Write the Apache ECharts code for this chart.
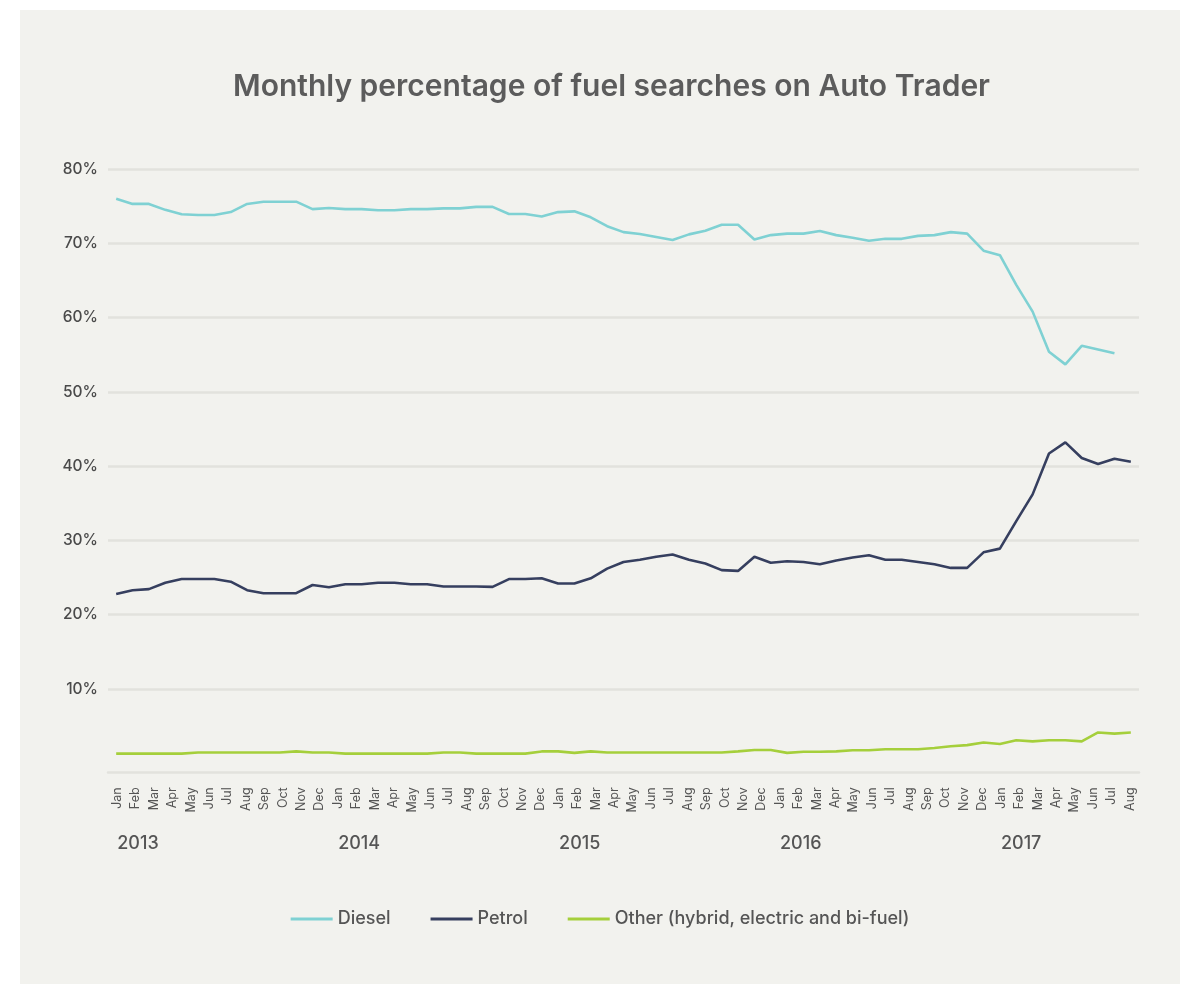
<!DOCTYPE html>
<html>
<head>
<meta charset="utf-8">
<title>Monthly percentage of fuel searches on Auto Trader</title>
<script src="https://cdn.jsdelivr.net/npm/echarts@6/dist/echarts.min.js"></script>
<style>
  html, body { margin: 0; padding: 0; background: #fff; }
  #panel { position: absolute; left: 20px; top: 10px; width: 1160px; height: 974px; background: #f2f2ee; }
  #chart { position: absolute; left: 0; top: 0; width: 1200px; height: 993px; }
</style>
</head>
<body>
<div id="panel"></div>
<div id="chart"></div>
<script>
// axis labels
const monthNames = ['Jan', 'Feb', 'Mar', 'Apr', 'May', 'Jun', 'Jul', 'Aug', 'Sep', 'Oct', 'Nov', 'Dec'];
const years = ['2013', '2014', '2015', '2016', '2017'];
const lastYearMonths = 8; // 2017 runs Jan..Aug
const yTicks = [0, 10, 20, 30, 40, 50, 60, 70, 80];

// readings taken off the lines (the plotted points are finer than the month ticks)
const diesel = [
  76.0, 75.3, 75.3, 74.5, 73.9, 73.8, 73.8, 74.2, 75.3, 75.6, 75.6, 75.6,
  74.6, 74.75, 74.6, 74.6, 74.45, 74.45, 74.6, 74.6, 74.7, 74.7, 74.9, 74.9,
  73.95, 73.95, 73.6, 74.2, 74.3, 73.5, 72.3, 71.5, 71.25, 70.85, 70.45, 71.2,
  71.7, 72.5, 72.5, 70.5, 71.1, 71.3, 71.3, 71.65, 71.1, 70.75, 70.35, 70.6,
  70.6, 71.0, 71.1, 71.5, 71.3, 69.0, 68.4, 64.4, 60.8, 55.4, 53.7, 56.2,
  55.7, 55.2, null
];
const petrol = [
  22.8, 23.3, 23.45, 24.3, 24.8, 24.8, 24.8, 24.45, 23.3, 22.9, 22.9, 22.9,
  24.0, 23.7, 24.1, 24.1, 24.3, 24.3, 24.1, 24.1, 23.8, 23.8, 23.8, 23.75,
  24.8, 24.8, 24.9, 24.2, 24.2, 24.9, 26.2, 27.1, 27.4, 27.8, 28.1, 27.4,
  26.9, 26.0, 25.9, 27.8, 27.0, 27.2, 27.1, 26.8, 27.3, 27.7, 28.0, 27.4,
  27.4, 27.1, 26.8, 26.3, 26.3, 28.4, 28.9, 32.6, 36.2, 41.7, 43.2, 41.1,
  40.3, 41.0, 40.6
];
const other = [
  1.3, 1.3, 1.3, 1.3, 1.3, 1.45, 1.45, 1.45, 1.45, 1.45, 1.45, 1.6,
  1.45, 1.45, 1.3, 1.3, 1.3, 1.3, 1.3, 1.3, 1.45, 1.45, 1.3, 1.3,
  1.3, 1.3, 1.6, 1.6, 1.4, 1.6, 1.45, 1.45, 1.45, 1.45, 1.45, 1.45,
  1.45, 1.45, 1.6, 1.8, 1.8, 1.4, 1.55, 1.55, 1.6, 1.75, 1.75, 1.9,
  1.9, 1.9, 2.05, 2.3, 2.45, 2.8, 2.6, 3.1, 2.95, 3.1, 3.1, 2.95,
  4.15, 4.0, 4.15
];

const months = [];
const yearRow = [];
years.forEach((y, i) => {
  const n = i === years.length - 1 ? lastYearMonths : 12;
  for (let m = 0; m < n; m++) {
    months.push(monthNames[m]);
    yearRow.push(m === 0 ? y : '');
  }
});
const points = petrol.map((_, i) => String(i));

const FONT = 'Inter, "Noto Sans", sans-serif';
const gridGrey = '#e2e2dd';

const chart = echarts.init(document.getElementById('chart'));
chart.setOption({
  animation: false,
  textStyle: { fontFamily: FONT },
  title: {
    text: 'Monthly percentage of fuel searches on Auto Trader',
    left: 228,
    top: 67,
    textStyle: { fontFamily: FONT, fontSize: 30, fontWeight: 600, color: '#5c5c5c' }
  },
  legend: {
    top: 905,
    left: 'center',
    icon: 'rect',
    itemWidth: 42,
    itemHeight: 3,
    itemGap: 40,
    textStyle: { fontFamily: FONT, fontSize: 18, fontWeight: 500, color: '#555' },
    data: ['Diesel', 'Petrol', 'Other (hybrid, electric and bi-fuel)']
  },
  grid: { left: 108, right: 61, top: 169, bottom: 229.7 },
  xAxis: [
    {
      type: 'category',
      data: months,
      boundaryGap: true,
      position: 'bottom',
      offset: 9,
      axisLine: { show: true, onZero: false, lineStyle: { color: gridGrey, width: 2.5 } },
      axisTick: { show: false },
      axisLabel: { interval: 0, rotate: 90, margin: 15, fontSize: 12.5, color: '#555' },
      splitLine: { show: false }
    },
    {
      type: 'category',
      data: yearRow,
      boundaryGap: true,
      position: 'bottom',
      offset: 9,
      axisLine: { show: false, onZero: false },
      axisTick: { show: false },
      axisLabel: { interval: 0, margin: 62, align: 'left', fontSize: 18, fontWeight: 500, color: '#555' }
    },
    {
      type: 'category',
      data: points,
      boundaryGap: true,
      show: false
    }
  ],
  yAxis: {
    type: 'value',
    min: yTicks[0],
    max: yTicks[yTicks.length - 1],
    interval: 10,
    axisLine: { show: false },
    axisTick: { show: false },
    axisLabel: {
      margin: 10,
      fontSize: 15.5,
      fontWeight: 500,
      color: '#4a4a4a',
      formatter: v => (v === 0 ? '' : v + '%')
    },
    splitLine: {
      lineStyle: {
        width: 2.5,
        color: ['rgba(0,0,0,0)', gridGrey, gridGrey, gridGrey, gridGrey, gridGrey, gridGrey, gridGrey, gridGrey]
      }
    }
  },
  series: [
    {
      name: 'Diesel',
      type: 'line',
      xAxisIndex: 2,
      data: diesel,
      symbol: 'none',
      color: '#7fd1d3',
      lineStyle: { width: 2.6 }
    },
    {
      name: 'Petrol',
      type: 'line',
      xAxisIndex: 2,
      data: petrol,
      symbol: 'none',
      color: '#363f5f',
      lineStyle: { width: 2.6 }
    },
    {
      name: 'Other (hybrid, electric and bi-fuel)',
      type: 'line',
      xAxisIndex: 2,
      data: other,
      symbol: 'none',
      color: '#a5cf3b',
      lineStyle: { width: 2.6 }
    }
  ]
});
</script>
</body>
</html>
